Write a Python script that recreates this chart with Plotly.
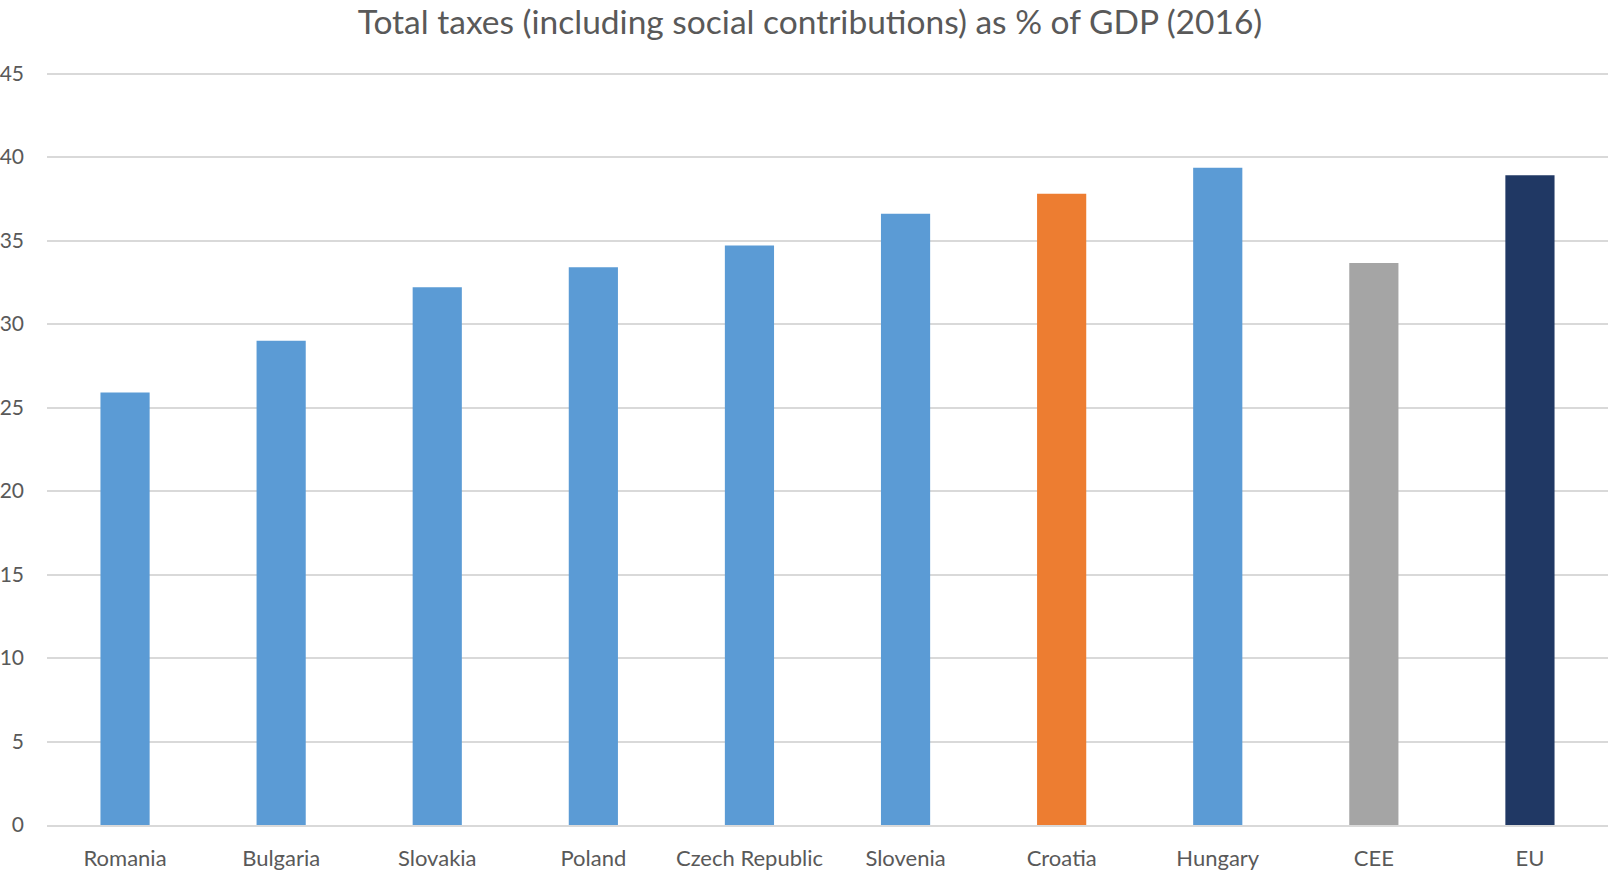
import plotly.graph_objects as go

categories = ["Romania", "Bulgaria", "Slovakia", "Poland", "Czech Republic",
              "Slovenia", "Croatia", "Hungary", "CEE", "EU"]
values = [25.9, 29.0, 32.2, 33.4, 34.7, 36.6, 37.8, 39.35, 33.65, 38.9]
bar_colors = ["#5B9BD5"] * 6 + ["#ED7D31", "#5B9BD5", "#A5A5A5", "#203864"]
y_ticks = [0, 5, 10, 15, 20, 25, 30, 35, 40, 45]
title_text = "Total taxes (including social contributions) as % of GDP (2016)"

FONT = "Lato, 'Open Sans', sans-serif"

fig = go.Figure(go.Bar(
    x=categories, y=values,
    marker=dict(color=bar_colors, line=dict(width=0)),
    hoverinfo="x+y",
))

fig.update_layout(
    width=1608, height=872,
    margin=dict(l=47, r=0, t=71, b=47),
    paper_bgcolor="white", plot_bgcolor="white",
    bargap=0.685,
    showlegend=False,
    font=dict(family=FONT, color="#595959", size=21),
    title=dict(text=title_text, x=810 / 1608, xanchor="center",
               y=1 - 22 / 872, yanchor="middle",
               font=dict(family=FONT, size=33.5, color="#595959")),
    xaxis=dict(showgrid=False, showline=True, linecolor="#d9d9d9", linewidth=2,
               ticks="", ticklabelstandoff=13,
               tickfont=dict(size=22, color="#595959")),
    yaxis=dict(range=[0, 45.15], tickvals=y_ticks, showgrid=True,
               gridcolor="#d9d9d9", gridwidth=1.5, zeroline=False,
               showline=False, ticks="", ticklabelstandoff=22,
               tickfont=dict(size=21, color="#595959")),
)

fig.write_html("out.html", config={"displayModeBar": False},
               post_script="document.body.style.margin='0';")
